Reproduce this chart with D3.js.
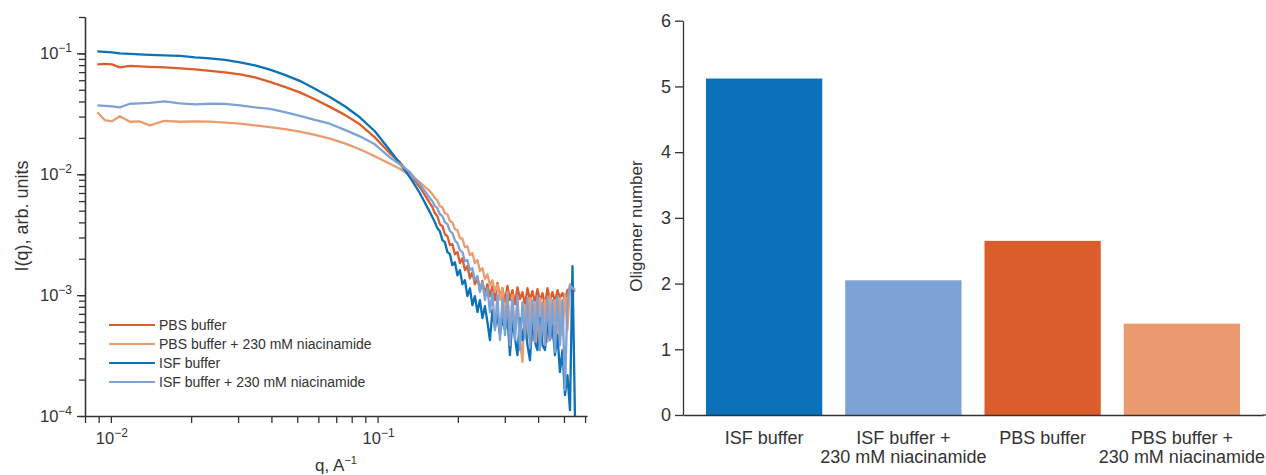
<!DOCTYPE html>
<html lang="en">

<head>
    <meta charset="UTF-8">
    <title>SAXS curves and oligomer number</title>
    <script src="https://cdnjs.cloudflare.com/ajax/libs/d3/7.8.5/d3.min.js"></script>
    <style>
        body {
            margin: 0;
            background: #fff;
        }

        svg {
            display: block;
            font-family: "Liberation Sans", Arial, sans-serif;
        }

        .axis path,
        .axis line {
            stroke: #333;
            stroke-width: 1.3;
        }

        .lbl {
            fill: #333;
        }

        .curve {
            fill: none;
            stroke-width: 2.3;
            stroke-linejoin: round;
        }
    </style>
</head>

<body>
    <svg id="chart" width="1266" height="475"></svg>
    <script>
        // scattering vector q (1/A)
        const qValues = [0.0089, 0.0095, 0.0101, 0.0108, 0.0118, 0.0128, 0.0140, 0.0159, 0.0182, 0.0207,
            0.0235, 0.0268, 0.0305, 0.0347, 0.0395, 0.0449, 0.0511, 0.0582, 0.0662, 0.0754,
            0.0858, 0.0977, 0.1112, 0.1212, 0.1322, 0.1441, 0.1571,
            0.1606, 0.1641, 0.1676, 0.1713, 0.1750, 0.1789, 0.1828, 0.1868, 0.1908, 0.1950,
            0.1993, 0.2036, 0.2081, 0.2126, 0.2172, 0.2220, 0.2268, 0.2318, 0.2369, 0.2420,
            0.2473, 0.2527, 0.2582, 0.2639, 0.2696, 0.2755, 0.2815, 0.2877, 0.2940, 0.3004,
            0.3069, 0.3136, 0.3205, 0.3275, 0.3346, 0.3419, 0.3494, 0.3570, 0.3648, 0.3728,
            0.3809, 0.3892, 0.3977, 0.4064, 0.4153, 0.4243, 0.4336, 0.4430, 0.4527, 0.4626,
            0.4727, 0.4830, 0.4935, 0.5043, 0.5153, 0.5266, 0.5381, 0.5498
        ];

        // I(q) for each sample, same length as qValues
        const pbsBuffer = [0.0812, 0.0819, 0.0812, 0.0767, 0.0789, 0.0781, 0.0774, 0.0767, 0.0752, 0.0738,
            0.0717, 0.0697, 0.0671, 0.0634, 0.0582, 0.0529, 0.0476, 0.0417, 0.0361, 0.0310,
            0.0259, 0.0202, 0.0149, 0.0126, 0.0100, 0.00781, 0.00576,
            5.34e-3, 4.76e-3, 4.50e-3, 3.86e-3, 3.72e-3, 3.19e-3, 3.07e-3, 2.59e-3, 2.64e-3, 2.18e-3,
            2.27e-3, 1.84e-3, 2.02e-3, 1.61e-3, 1.74e-3, 1.38e-3, 1.55e-3, 1.23e-3, 1.41e-3, 1.10e-3,
            1.31e-3, 1.02e-3, 1.23e-3, 9.81e-4, 1.19e-3, 9.10e-4, 1.26e-3, 9.45e-4, 1.14e-3, 8.76e-4,
            1.19e-3, 9.10e-4, 1.10e-3, 8.43e-4, 1.16e-3, 9.27e-4, 1.06e-3, 8.27e-4, 1.14e-3, 9.10e-4,
            1.08e-3, 8.59e-4, 1.12e-3, 8.91e-4, 1.04e-3, 8.12e-4, 1.14e-3, 9.10e-4, 1.06e-3, 8.76e-4,
            1.10e-3, 9.45e-4, 1.04e-3, 9.10e-4, 1.10e-3, 1.14e-3, 1.06e-3, 1.10e-3
        ];

        const pbsNiacinamide = [0.0326, 0.0280, 0.0274, 0.0302, 0.0272, 0.0274, 0.0254, 0.0277, 0.0272, 0.0274,
            0.0273, 0.0267, 0.0262, 0.0254, 0.0245, 0.0236, 0.0225, 0.0212, 0.0197, 0.0180,
            0.0161, 0.0141, 0.0122, 0.0111, 0.00981, 0.00859, 0.00724,
            6.84e-3, 6.34e-3, 6.09e-3, 5.44e-3, 5.34e-3, 4.76e-3, 4.67e-3, 4.09e-3, 4.01e-3, 3.51e-3,
            3.45e-3, 2.96e-3, 2.93e-3, 2.49e-3, 2.54e-3, 2.14e-3, 2.23e-3, 1.84e-3, 1.95e-3, 1.58e-3,
            1.67e-3, 1.36e-3, 1.49e-3, 1.21e-3, 1.33e-3, 1.06e-3, 1.23e-3, 9.10e-4, 1.14e-3, 6.22e-4,
            1.06e-3, 5.14e-4, 1.00e-3, 4.67e-4, 9.10e-4, 4.25e-4, 2.80e-4, 8.27e-4, 4.41e-4, 9.45e-4,
            4.25e-4, 8.76e-4, 3.86e-4, 9.45e-4, 4.58e-4, 9.10e-4, 4.09e-4, 9.81e-4, 4.41e-4, 9.10e-4,
            3.86e-4, 9.45e-4, 4.67e-4, 1.02e-3, 5.14e-4, 1.23e-3, 1.10e-3, 1.14e-3
        ];

        const isfBuffer = [0.104, 0.103, 0.102, 0.100, 0.0990, 0.0981, 0.0972, 0.0963, 0.0954, 0.0927,
            0.0910, 0.0884, 0.0843, 0.0796, 0.0734, 0.0664, 0.0593, 0.0509, 0.0436, 0.0365,
            0.0296, 0.0227, 0.0158, 0.0123, 0.00945, 0.00697, 0.00486,
            4.41e-3, 4.01e-3, 3.58e-3, 3.38e-3, 2.85e-3, 2.74e-3, 2.27e-3, 2.18e-3, 1.77e-3, 1.87e-3,
            1.46e-3, 1.61e-3, 1.23e-3, 1.33e-3, 9.81e-4, 1.14e-3, 8.27e-4, 9.81e-4, 7.24e-4, 9.10e-4,
            6.46e-4, 8.12e-4, 5.99e-4, 4.25e-4, 7.52e-4, 5.34e-4, 6.84e-4, 4.67e-4, 6.46e-4, 5.14e-4,
            6.71e-4, 3.19e-4, 6.22e-4, 4.41e-4, 3.19e-4, 6.46e-4, 4.25e-4, 5.99e-4, 3.86e-4, 2.90e-4,
            6.22e-4, 4.09e-4, 3.51e-4, 6.46e-4, 3.86e-4, 3.51e-4, 5.99e-4, 4.25e-4, 5.65e-4, 3.19e-4,
            4.67e-4, 2.31e-4, 3.51e-4, 1.49e-4, 2.18e-4, 1.12e-4, 1.74e-3, 1.0e-4
        ];

        const isfNiacinamide = [0.0372, 0.0368, 0.0365, 0.0358, 0.0383, 0.0386, 0.0390, 0.0401, 0.0386, 0.0379,
            0.0383, 0.0382, 0.0372, 0.0358, 0.0348, 0.0326, 0.0304, 0.0282, 0.0262, 0.0233,
            0.0206, 0.0177, 0.0138, 0.0121, 0.0104, 0.00827, 0.00634,
            5.99e-3, 5.44e-3, 5.24e-3, 4.67e-3, 4.50e-3, 4.01e-3, 3.86e-3, 3.38e-3, 3.26e-3, 2.85e-3,
            2.69e-3, 2.36e-3, 2.27e-3, 1.91e-3, 1.95e-3, 1.61e-3, 1.67e-3, 1.33e-3, 1.44e-3, 1.06e-3,
            1.28e-3, 9.10e-4, 1.14e-3, 7.24e-4, 1.06e-3, 5.14e-4, 1.00e-3, 4.25e-4, 9.45e-4, 4.67e-4,
            1.02e-3, 3.86e-4, 9.10e-4, 4.25e-4, 9.81e-4, 3.51e-4, 8.76e-4, 4.41e-4, 9.45e-4, 3.65e-4,
            9.10e-4, 4.09e-4, 9.81e-4, 3.51e-4, 8.76e-4, 3.86e-4, 9.45e-4, 4.25e-4, 9.10e-4, 3.38e-4,
            9.81e-4, 3.86e-4, 9.10e-4, 1.64e-4, 9.10e-4, 1.21e-3, 1.14e-3, 1.10e-3
        ];

        const seriesNames = ["PBS buffer", "PBS buffer + 230 mM niacinamide", "ISF buffer", "ISF buffer + 230 mM niacinamide"];
        const seriesColors = ["#dc5d2b", "#eb9b70", "#0b72ba", "#7da2d5"];
        const seriesValues = [pbsBuffer, pbsNiacinamide, isfBuffer, isfNiacinamide];

        // labelled decades on the log axes
        const xLabelTicks = [0.01, 0.1];
        const xLabelExps = ["2", "1"];
        const yLabelTicks = [1e-4, 1e-3, 1e-2, 1e-1];
        const yLabelExps = ["4", "3", "2", "1"];

        // bar chart
        const barLabels = [["ISF buffer"], ["ISF buffer +", "230 mM niacinamide"], ["PBS buffer"], ["PBS buffer +", "230 mM niacinamide"]];
        const oligomerNumber = [5.12, 2.05, 2.65, 1.39];
        const barColors = ["#0b72ba", "#7da2d5", "#dc5d2b", "#eb9b70"];
        const barTicks = [0, 1, 2, 3, 4, 5, 6];

        const svg = d3.select('#chart');

        // ---------- left: scattering curves ----------
        const x = d3.scaleLog().domain([0.008, 0.61]).range([85, 587]);
        const y = d3.scaleLog().domain([1e-4, 0.2]).range([416, 17]);

        svg.append('clipPath').attr('id', 'plotClip')
            .append('rect').attr('x', 85).attr('y', 17).attr('width', 502).attr('height', 399);

        const line = d3.line()
            .x((d, i) => x(qValues[i]))
            .y(d => y(d));

        svg.append('g').attr('clip-path', 'url(#plotClip)')
            .selectAll('path')
            .data(seriesValues)
            .enter()
            .append('path')
            .attr('class', 'curve')
            .attr('stroke', (d, i) => seriesColors[i])
            .attr('d', line);

        // minor + major ticks
        svg.append('g').attr('class', 'axis')
            .attr('transform', 'translate(0,416)')
            .call(d3.axisBottom(x).tickValues(x.ticks()).tickSize(7).tickSizeOuter(0).tickFormat(''));

        svg.append('g').attr('class', 'axis')
            .attr('transform', 'translate(85,0)')
            .call(d3.axisLeft(y).tickValues(y.ticks()).tickSize(6).tickSizeOuter(0).tickFormat(''));

        svg.append('g').attr('class', 'axis')
            .attr('transform', 'translate(85,0)')
            .call(d3.axisLeft(y).tickValues(yLabelTicks).tickSize(8).tickSizeOuter(0).tickFormat(''));

        function powerLabel(sel, exp) {
            sel.append('tspan').text('10');
            sel.append('tspan').attr('dy', '-0.6em').attr('font-size', '12px').text('\u2212' + exp);
        }

        xLabelTicks.forEach((v, i) => {
            const t = svg.append('text').attr('class', 'lbl')
                .attr('x', x(v) + 1).attr('y', 444)
                .attr('text-anchor', 'middle').attr('font-size', '16.5px');
            powerLabel(t, xLabelExps[i]);
        });

        yLabelTicks.forEach((v, i) => {
            const t = svg.append('text').attr('class', 'lbl')
                .attr('x', 72).attr('y', y(v) + 6)
                .attr('text-anchor', 'end').attr('font-size', '16.5px');
            powerLabel(t, yLabelExps[i]);
        });

        const xTitle = svg.append('text').attr('class', 'lbl')
            .attr('x', 336).attr('y', 471)
            .attr('text-anchor', 'middle').attr('font-size', '17px');
        xTitle.append('tspan').text('q, A');
        xTitle.append('tspan').attr('dy', '-0.6em').attr('font-size', '11px').text('\u22121');

        svg.append('text').attr('class', 'lbl')
            .attr('transform', 'translate(28,216) rotate(-90)')
            .attr('text-anchor', 'middle').attr('font-size', '18px')
            .text('I(q), arb. units');

        // legend
        const legend = svg.append('g')
            .selectAll('g')
            .data(seriesNames)
            .enter()
            .append('g')
            .attr('transform', (d, i) => 'translate(109,' + (325 + i * 19) + ')');

        legend.append('line')
            .attr('x1', 0).attr('x2', 46)
            .attr('stroke', (d, i) => seriesColors[i])
            .attr('stroke-width', 2);

        legend.append('text').attr('class', 'lbl')
            .attr('x', 50).attr('y', 5)
            .attr('font-size', '14px')
            .text(d => d);

        // ---------- right: oligomer number ----------
        const xb = d3.scaleBand().domain(d3.range(barLabels.length)).range([683, 1263]).padding(0.165);
        const yb = d3.scaleLinear().domain([0, 6]).range([415, 20.7]);

        svg.append('g')
            .selectAll('rect')
            .data(oligomerNumber)
            .enter()
            .append('rect')
            .attr('x', (d, i) => xb(i))
            .attr('y', d => yb(d))
            .attr('width', xb.bandwidth())
            .attr('height', d => yb(0) - yb(d))
            .attr('fill', (d, i) => barColors[i]);

        const yAxisB = svg.append('g').attr('class', 'axis')
            .attr('transform', 'translate(683,0)')
            .call(d3.axisLeft(yb).tickValues(barTicks).tickFormat(d3.format('d'))
                .tickSize(8).tickSizeOuter(0).tickPadding(4));
        yAxisB.selectAll('text')
            .attr('class', 'lbl')
            .attr('font-size', '18px')
            .attr('font-family', '"Liberation Sans", Arial, sans-serif');

        svg.append('g').attr('class', 'axis')
            .attr('transform', 'translate(0,415)')
            .call(d3.axisBottom(xb).tickSize(0).tickSizeOuter(0).tickFormat(''));
        svg.append('line').attr('x1', 1263).attr('x2', 1266).attr('y1', 415).attr('y2', 415)
            .attr('stroke', '#333').attr('stroke-width', 1.3);

        const catText = svg.append('g')
            .selectAll('text')
            .data(barLabels)
            .enter()
            .append('text')
            .attr('class', 'lbl')
            .attr('text-anchor', 'middle')
            .attr('font-size', '18px')
            .attr('x', (d, i) => xb(i) + xb.bandwidth() / 2)
            .attr('y', 444);

        catText.selectAll('tspan')
            .data(d => d)
            .enter()
            .append('tspan')
            .attr('x', function() { return this.parentNode.getAttribute('x'); })
            .attr('dy', (d, i) => i === 0 ? 0 : 19)
            .text(d => d);

        svg.append('text').attr('class', 'lbl')
            .attr('transform', 'translate(642,226) rotate(-90)')
            .attr('text-anchor', 'middle').attr('font-size', '17px')
            .text('Oligomer number');
    </script>
</body>

</html>
